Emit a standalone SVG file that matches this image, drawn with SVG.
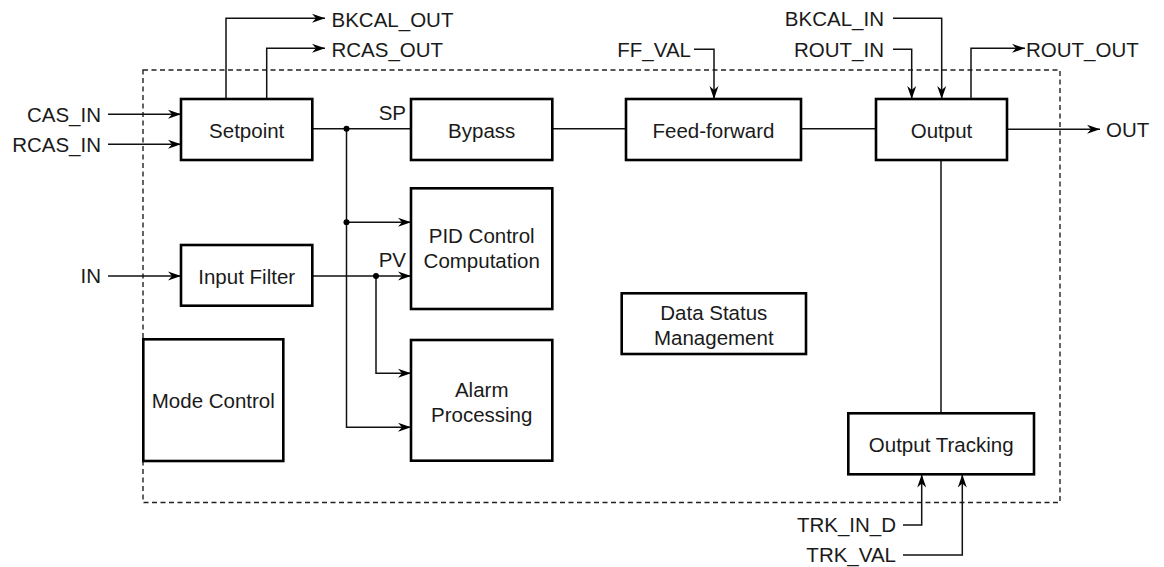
<svg xmlns="http://www.w3.org/2000/svg" width="1164" height="567" viewBox="0 0 1164 567">
<style>
.box{fill:#fff;stroke:#000;stroke-width:2.6}
.ln{fill:none;stroke:#111;stroke-width:1.5}
.arr{marker-end:url(#ah)}
.frame{fill:none;stroke:#222;stroke-width:1.4;stroke-dasharray:5 3.5}
text{font-family:"Liberation Sans",Arial,sans-serif;font-size:20.5px;fill:#1a1a1a}
.c{text-anchor:middle}
.e{text-anchor:end}
.dot{fill:#000}
</style>
<defs>
<marker id="ah" viewBox="-14 -5 15 10" refX="0" refY="0" markerWidth="15" markerHeight="10" markerUnits="userSpaceOnUse" orient="auto">
<path d="M0,0 L-13,-4.5 L-9,0 L-13,4.5 Z" fill="#000"/>
</marker>
</defs>
<rect id="frame" class="frame" x="143" y="70" width="917" height="432.5"/>
<g id="connectors">
<path class="ln arr" d="M108,114.3 H181"/>
<path class="ln arr" d="M108,144.3 H181"/>
<path class="ln arr" d="M108,276 H181"/>
<path class="ln arr" d="M226,99 V18.3 H325"/>
<path class="ln arr" d="M266.7,99 V48.3 H325"/>
<path class="ln" d="M312,128.7 H411"/>
<path class="ln arr" d="M346.5,128.7 V427.3 H411"/>
<path class="ln arr" d="M346.5,222.3 H411"/>
<path class="ln arr" d="M312,276 H411"/>
<path class="ln arr" d="M376,276 V373.3 H411"/>
<path class="ln" d="M552,128.7 H626"/>
<path class="ln" d="M801,128.7 H876"/>
<path class="ln arr" d="M694,49.3 H714 V99"/>
<path class="ln arr" d="M893,18.3 H941.7 V99"/>
<path class="ln arr" d="M893,49.3 H911.7 V99"/>
<path class="ln arr" d="M971,99 V48.3 H1025"/>
<path class="ln arr" d="M1007,129.3 H1100"/>
<path class="ln" d="M941,160 V413"/>
<path class="ln arr" d="M903,525 H921.7 V474.5"/>
<path class="ln arr" d="M903,555 H962.3 V474.5"/>
<circle class="dot" cx="346.5" cy="128.7" r="3"/>
<circle class="dot" cx="346.5" cy="222.3" r="3"/>
<circle class="dot" cx="376" cy="276" r="3"/>
</g>
<g id="labels">
<text class="e" x="101" y="121.7">CAS_IN</text>
<text class="e" x="101" y="151.7">RCAS_IN</text>
<text class="e" x="101" y="283.3">IN</text>
<text x="331.5" y="26.7">BKCAL_OUT</text>
<text x="331.5" y="56.7">RCAS_OUT</text>
<text class="e" x="691" y="56.7">FF_VAL</text>
<text class="e" x="884" y="26">BKCAL_IN</text>
<text class="e" x="884" y="56.7">ROUT_IN</text>
<text x="1026" y="56.7">ROUT_OUT</text>
<text x="1106" y="137">OUT</text>
<text class="e" x="406" y="120">SP</text>
<text class="e" x="406" y="266.7">PV</text>
<text class="e" x="896" y="531.7">TRK_IN_D</text>
<text class="e" x="896" y="561.7">TRK_VAL</text>
</g>
<g id="setpoint"><rect class="box" x="181" y="99" width="131.3" height="61"/><text class="c" x="246.7" y="137.7">Setpoint</text></g>
<g id="bypass"><rect class="box" x="411" y="99" width="141.3" height="61"/><text class="c" x="481.7" y="137.7">Bypass</text></g>
<g id="feedforward"><rect class="box" x="626" y="99" width="175" height="61"/><text class="c" x="713.5" y="137.7">Feed-forward</text></g>
<g id="output"><rect class="box" x="876" y="99" width="131" height="61"/><text class="c" x="941.5" y="137.7">Output</text></g>
<g id="inputfilter"><rect class="box" x="181" y="245" width="131.3" height="60.7"/><text class="c" x="246.7" y="284.3">Input Filter</text></g>
<g id="pid"><rect class="box" x="411" y="188.3" width="141.3" height="120.7"/><text class="c" x="481.7" y="242.7">PID Control</text><text class="c" x="481.7" y="268.3">Computation</text></g>
<g id="alarm"><rect class="box" x="411" y="340" width="141.3" height="120.7"/><text class="c" x="481.7" y="396.7">Alarm</text><text class="c" x="481.7" y="422.3">Processing</text></g>
<g id="datastatus"><rect class="box" x="621.7" y="293.3" width="184.3" height="60.7"/><text class="c" x="713.8" y="320">Data Status</text><text class="c" x="713.8" y="345">Management</text></g>
<g id="modecontrol"><rect class="box" x="143.3" y="339.3" width="140" height="121.7"/><text class="c" x="213.3" y="408.3">Mode Control</text></g>
<g id="outputtracking"><rect class="box" x="848.3" y="413.3" width="185.7" height="61"/><text class="c" x="941.2" y="451.7">Output Tracking</text></g>
</svg>
